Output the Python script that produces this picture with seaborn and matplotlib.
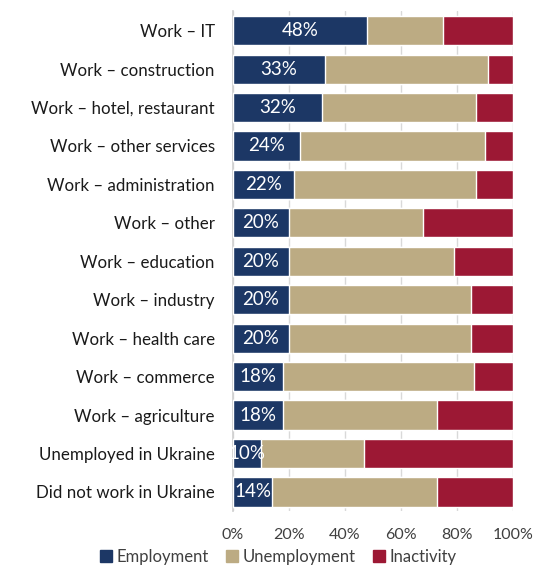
import matplotlib
matplotlib.use("Agg")
import matplotlib.pyplot as plt
from matplotlib.ticker import PercentFormatter
from matplotlib.lines import Line2D
import seaborn as sns
import pandas as pd

categories = [
    "Work – IT",
    "Work – construction",
    "Work – hotel, restaurant",
    "Work – other services",
    "Work – administration",
    "Work – other",
    "Work – education",
    "Work – industry",
    "Work – health care",
    "Work – commerce",
    "Work – agriculture",
    "Unemployed in Ukraine",
    "Did not work in Ukraine",
]
employment = [48, 33, 32, 24, 22, 20, 20, 20, 20, 18, 18, 10, 14]
unemployment = [27, 58, 55, 66, 65, 48, 59, 65, 65, 68, 55, 37, 59]
inactivity = [25, 9, 13, 10, 13, 32, 21, 15, 15, 14, 27, 53, 27]

series_names = ["Employment", "Unemployment", "Inactivity"]
colors = ["#1c3765", "#bcab83", "#9c1834"]
tick_values = [0, 20, 40, 60, 80, 100]

df = pd.DataFrame({
    "category": categories,
    "Employment": employment,
    "Unemployment": unemployment,
    "Inactivity": inactivity,
})
df["cum_emp"] = df["Employment"]
df["cum_unemp"] = df["Employment"] + df["Unemployment"]
df["cum_total"] = df["cum_unemp"] + df["Inactivity"]

sns.set_theme(style="white")
plt.rcParams["font.family"] = ["Lato", "DejaVu Sans"]

fig = plt.figure(figsize=(5.33, 5.73), dpi=100)
ax = fig.add_axes([0.437, 0.108, 0.525, 0.872])

# Stacked bars drawn as overlapping cumulative layers
for col, color in zip(["cum_total", "cum_unemp", "cum_emp"], [colors[2], colors[1], colors[0]]):
    sns.barplot(data=df, x=col, y="category", orient="h", color=color,
                width=0.76, saturation=1, ax=ax, zorder=3)

emp_container = ax.containers[-1]
ax.bar_label(emp_container, labels=[f"{v}%" for v in employment],
             label_type="center", color="white", fontsize=13.5, zorder=5)

ax.set_xlim(0, 100)
ax.set_xticks(tick_values)
ax.xaxis.set_major_formatter(PercentFormatter(decimals=0))
ax.set_xlabel("")
ax.set_ylabel("")
ax.grid(axis="x", color="#d9d9d9", linewidth=1, zorder=0)
ax.set_axisbelow(True)
for s in ["top", "right", "bottom"]:
    ax.spines[s].set_visible(False)
ax.spines["left"].set_color("#d0d0d0")
ax.tick_params(axis="y", length=0, pad=13, labelsize=12.2, labelcolor="#1a1a1a")
ax.tick_params(axis="x", length=0, pad=12, labelsize=11.5, labelcolor="#404040")

handles = [Line2D([0], [0], marker="s", linestyle="none", markersize=8,
                  markerfacecolor=c, markeredgecolor=c) for c in colors]
fig.legend(handles, series_names, loc="lower center", bbox_to_anchor=(0.52, -0.012),
           ncol=3, frameon=False, fontsize=12, handletextpad=0.15, columnspacing=0.9,
           handlelength=1.0, labelcolor="#404040")

fig.savefig("out.png", dpi=100)
